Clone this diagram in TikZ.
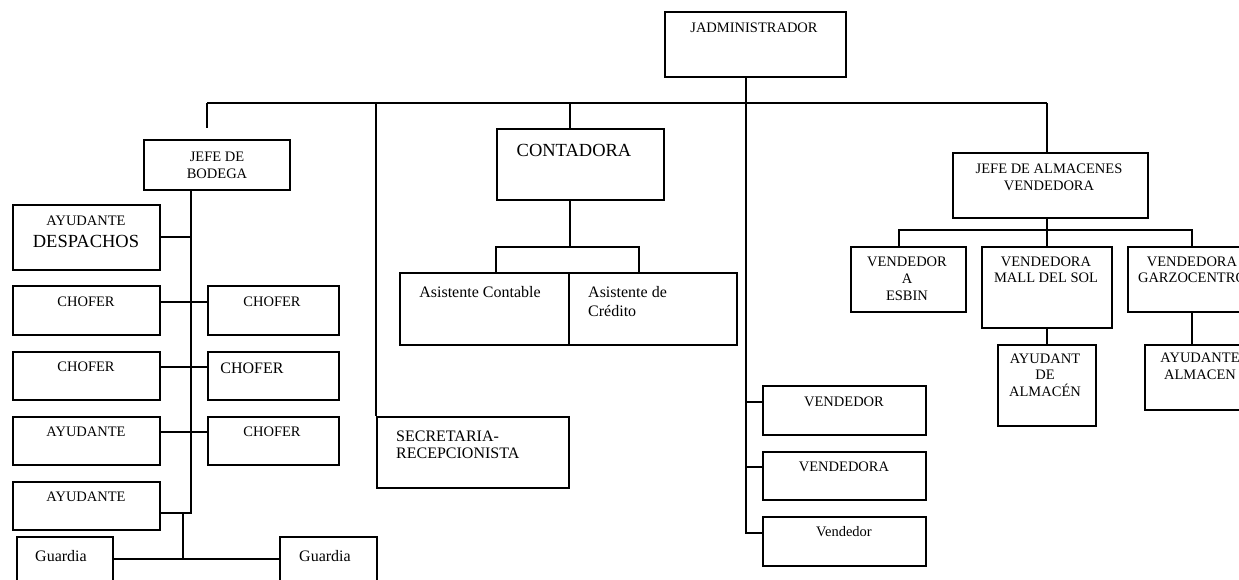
\documentclass[tikz,border=0pt]{standalone}
\usepackage{fontspec}
\setmainfont{Liberation Serif}
\tikzset{
  box/.style={draw, line width=1.8pt, inner sep=0pt, anchor=north west},
  conn/.style={line width=1.8pt},
  ts/.style={inner sep=0pt, align=center, font=\fontsize{14.5}{17}\selectfont},
  tm/.style={inner sep=0pt, align=center, font=\fontsize{16}{19}\selectfont},
  tlg/.style={inner sep=0pt, align=center, font=\fontsize{18.5}{21}\selectfont}
}
\newcommand{\bx}[5]{\node[box, minimum width={(#4-#2)*1pt}, minimum height={(#5-#3)*1pt}] (#1) at (#2,#3) {};}
\begin{document}
\begin{tikzpicture}[x=1pt,y=-1pt]
\clip (0,0) rectangle (1239,580);
\fill[white] (0,0) rectangle (1239,580);
% boxes
\bx{admin}{664}{11}{845}{76}
\bx{bodega}{143}{139}{289}{189}
\bx{cont}{496}{128}{663}{199}
\bx{alm}{952}{152}{1147}{217}
\bx{desp}{12}{204}{159}{269}
\bx{cA}{12}{285}{159}{334}
\bx{cB}{207}{285}{338}{334}
\bx{cC}{12}{351}{159}{399}
\bx{cD}{207}{351}{338}{399}
\bx{ayA}{12}{416}{159}{464}
\bx{cE}{207}{416}{338}{464}
\bx{ayB}{12}{481}{159}{529}
\bx{gL}{16}{536}{112}{600}
\bx{gR}{279}{536}{376}{600}
\bx{secr}{376}{416}{568}{487}
\bx{asC}{399}{272}{568}{344}
\bx{asD}{568}{272}{736}{344}
\bx{vA}{762}{385}{925}{434}
\bx{vB}{762}{451}{925}{499}
\bx{vC}{762}{516}{925}{565}
\bx{esbin}{850}{246}{965}{311}
\bx{mall}{981}{246}{1111}{327}
\bx{garzo}{1127}{246}{1257}{311}
\bx{ayud}{997}{344}{1095}{425}
\bx{ayudB}{1144}{344}{1262}{409}
% coordinates
\coordinate (bL) at (207,103);
\coordinate (bR) at (1047,103);
\coordinate (v1) at (746,402);
\coordinate (v2) at (746,467);
\coordinate (v3) at (746,533);
\coordinate (cjL) at (496,247);
\coordinate (cjR) at (639,247);
\coordinate (aL) at (899,230);
\coordinate (aM) at (1047,230);
\coordinate (aR) at (1192,230);
\coordinate (bV) at (191,513);
\coordinate (h1) at (191,237);
\coordinate (h2) at (191,302);
\coordinate (h3) at (191,367);
\coordinate (h4) at (191,432);
\coordinate (g1) at (183,513);
\coordinate (g2) at (183,559);
% connectors
\draw[conn] (bL) -- (bR);
\draw[conn] (bL) -- ++(0,25);
\draw[conn] (v1 |- admin.south) -- (v3) -- (v3 -| vC.west);
\draw[conn] (v1) -- (v1 -| vA.west);
\draw[conn] (v2) -- (v2 -| vB.west);
\draw[conn] (bL -| secr.west) -- (secr.north west);
\draw[conn] (bL -| asC.east) -- (cont.north -| asC.east);
\draw[conn] (cont.south -| asC.east) -- (cjL -| asC.east);
\draw[conn] (asC.north -| cjL) -- (cjL) -- (cjR) -- (cjR |- asD.north);
\draw[conn] (bR) -- (bR |- alm.north);
\draw[conn] (bR |- alm.south) -- (aM) -- (aM |- mall.north);
\draw[conn] (esbin.north -| aL) -- (aL) -- (aR) -- (aR |- garzo.north);
\draw[conn] (mall.south -| aM) -- (aM |- ayud.north);
\draw[conn] (garzo.south -| aR) -- (aR |- ayudB.north);
\draw[conn] (bodega.south -| bV) -- (bV) -- (bV -| ayB.east);
\draw[conn] (desp.east |- h1) -- (h1);
\draw[conn] (cA.east |- h2) -- (cB.west |- h2);
\draw[conn] (cC.east |- h3) -- (cD.west |- h3);
\draw[conn] (ayA.east |- h4) -- (cE.west |- h4);
\draw[conn] (g1) -- (g2);
\draw[conn] (g2 -| gL.east) -- (g2 -| gR.west);
% texts
\node[ts] (tadmin) at (754,28) {JADMINISTRADOR};
\node[ts] (tbod) at (217,165.5) {JEFE DE\\BODEGA};
\node[ts] (tdesp1) at (86,221) {AYUDANTE};
\node[tlg] (tdesp2) at (86,241) {DESPACHOS};
\node[ts] (tcA) at (86,302) {CHOFER};
\node[ts] (tcB) at (272,302) {CHOFER};
\node[ts] (tcC) at (86,367) {CHOFER};
\node[tm] (tcD) at (252,368) {CHOFER};
\node[ts] (tayA) at (86,432) {AYUDANTE};
\node[ts] (tcE) at (272,432) {CHOFER};
\node[ts] (tayB) at (86,497) {AYUDANTE};
\node[tm] (tgL) at (61,556) {Guardia};
\node[tm] (tgR) at (325,556) {Guardia};
\node[tlg] (tcont) at (574,150) {CONTADORA};
\node[tm] (tasC) at (480,292) {Asistente Contable};
\node[tm, align=left, anchor=west] (tasD) at (588,301.5) {Asistente de\\Crédito};
\node[inner sep=0pt, align=left, anchor=west, font=\fontsize{16}{16.5}\selectfont] (tsecr) at (396,445) {SECRETARIA-\\RECEPCIONISTA};
\node[ts] (tvA) at (844,402) {VENDEDOR};
\node[ts] (tvB) at (844,467) {VENDEDORA};
\node[ts] (tvC) at (844,532) {Vendedor};
\node[ts] (talm) at (1049,177.5) {JEFE DE ALMACENES\\VENDEDORA};
\node[ts] (tesbin) at (907,279) {VENDEDOR\\A\\ESBIN};
\node[ts, font=\fontsize{14.5}{16}\selectfont] (tmall) at (1046,270) {VENDEDORA\\MALL DEL SOL};
\node[ts, font=\fontsize{14.5}{16}\selectfont] (tgarzo) at (1192,270) {VENDEDORA\\GARZOCENTRO};
\node[ts, font=\fontsize{14.5}{16.5}\selectfont] (tayud) at (1045,375) {AYUDANT\\DE\\ALMACÉN};
\node[ts] (tayudB) at (1200,366.5) {AYUDANTE\\ALMACEN};
\end{tikzpicture}
\end{document}
